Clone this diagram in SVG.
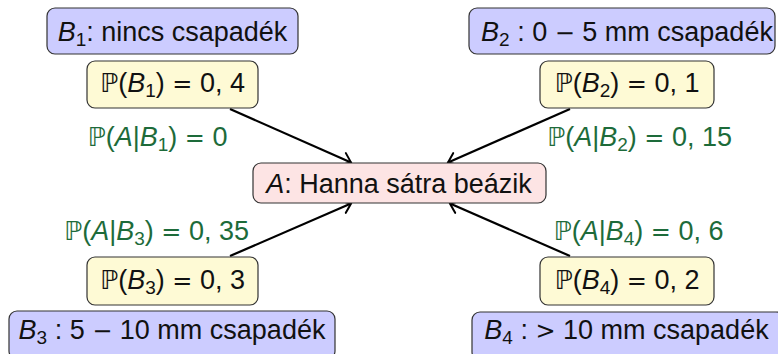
<svg xmlns="http://www.w3.org/2000/svg" width="778" height="354" viewBox="0 0 778 354">
<style>
text{font-family:"Liberation Sans","DejaVu Sans",sans-serif;font-size:27px;fill:#111;white-space:pre}
.g{fill:#1d6b3a}
.i{font-style:italic}
.s{font-size:19px}
.o{font-family:"DejaVu Sans",sans-serif;font-size:24px}
.p{font-family:"DejaVu Sans","DejaVu Serif",sans-serif;font-size:26px}
.blue{fill:#ccccff;stroke:#333;stroke-width:1.2}
.yel{fill:#fefad5;stroke:#333;stroke-width:1.2}
.red{fill:#fde4e4;stroke:#333;stroke-width:1.2}
.c{stroke:#000;stroke-width:2.2;fill:none}
</style>
<defs>
<marker id="ah" markerUnits="userSpaceOnUse" markerWidth="20" markerHeight="20" viewBox="-10 -10 20 20" refX="0" refY="0" orient="auto">
<path d="M -8.5 -6.5 Q -2.5 -2 0 0 Q -2.5 2 -8.5 6.5" fill="none" stroke="#000" stroke-width="2" stroke-linecap="round"/>
</marker>
</defs>
<g id="connectors">
<line class="c" x1="230" y1="109" x2="351" y2="162.5" marker-end="url(#ah)"/>
<line class="c" x1="570" y1="109" x2="448" y2="162.5" marker-end="url(#ah)"/>
<line class="c" x1="230" y1="256" x2="351" y2="203.5" marker-end="url(#ah)"/>
<line class="c" x1="570" y1="256" x2="450" y2="203.5" marker-end="url(#ah)"/>
</g>
<g id="B1">
<rect class="blue" x="47" y="8" width="251" height="46" rx="8"/>
<text x="172.5" y="40.5" text-anchor="middle"><tspan class="i">B</tspan><tspan class="s" dy="5">1</tspan><tspan dy="-5">: nincs csapadék</tspan></text>
</g>
<g id="PB1">
<rect class="yel" x="87" y="61" width="171" height="47" rx="8"/>
<text x="172.5" y="92" text-anchor="middle"><tspan class="p">ℙ</tspan>(<tspan class="i">B</tspan><tspan class="s" dy="5">1</tspan><tspan dy="-5">) </tspan><tspan class="o">=</tspan> 0, 4</text>
</g>
<g id="L1">
<text class="g" x="157.5" y="146" text-anchor="middle"><tspan class="p">ℙ</tspan>(<tspan class="i">A</tspan>|<tspan class="i">B</tspan><tspan class="s" dy="5">1</tspan><tspan dy="-5">) </tspan><tspan class="o">=</tspan> 0</text>
</g>
<g id="B2">
<rect class="blue" x="469" y="8" width="306" height="46" rx="8"/>
<text x="627" y="40.5" text-anchor="middle"><tspan class="i">B</tspan><tspan class="s" dy="5">2</tspan><tspan dy="-5"> : 0 </tspan><tspan class="o">−</tspan> 5 mm csapadék</text>
</g>
<g id="PB2">
<rect class="yel" x="540" y="61" width="174" height="47" rx="8"/>
<text x="627" y="92" text-anchor="middle"><tspan class="p">ℙ</tspan>(<tspan class="i">B</tspan><tspan class="s" dy="5">2</tspan><tspan dy="-5">) </tspan><tspan class="o">=</tspan> 0, 1</text>
</g>
<g id="L2">
<text class="g" x="639.5" y="146" text-anchor="middle"><tspan class="p">ℙ</tspan>(<tspan class="i">A</tspan>|<tspan class="i">B</tspan><tspan class="s" dy="5">2</tspan><tspan dy="-5">) </tspan><tspan class="o">=</tspan> 0, 15</text>
</g>
<g id="A">
<rect class="red" x="253" y="163" width="293" height="40" rx="8"/>
<text x="399" y="193" text-anchor="middle"><tspan class="i">A</tspan>: Hanna sátra beázik</text>
</g>
<g id="L3">
<text class="g" x="156.5" y="240" text-anchor="middle"><tspan class="p">ℙ</tspan>(<tspan class="i">A</tspan>|<tspan class="i">B</tspan><tspan class="s" dy="5">3</tspan><tspan dy="-5">) </tspan><tspan class="o">=</tspan> 0, 35</text>
</g>
<g id="L4">
<text class="g" x="638.5" y="240" text-anchor="middle"><tspan class="p">ℙ</tspan>(<tspan class="i">A</tspan>|<tspan class="i">B</tspan><tspan class="s" dy="5">4</tspan><tspan dy="-5">) </tspan><tspan class="o">=</tspan> 0, 6</text>
</g>
<g id="PB3">
<rect class="yel" x="87" y="257" width="171" height="48" rx="8"/>
<text x="172.5" y="289" text-anchor="middle"><tspan class="p">ℙ</tspan>(<tspan class="i">B</tspan><tspan class="s" dy="5">3</tspan><tspan dy="-5">) </tspan><tspan class="o">=</tspan> 0, 3</text>
</g>
<g id="PB4">
<rect class="yel" x="540" y="257" width="174" height="48" rx="8"/>
<text x="627" y="289" text-anchor="middle"><tspan class="p">ℙ</tspan>(<tspan class="i">B</tspan><tspan class="s" dy="5">4</tspan><tspan dy="-5">) </tspan><tspan class="o">=</tspan> 0, 2</text>
</g>
<g id="B3">
<rect class="blue" x="9" y="311" width="326" height="48" rx="8"/>
<text x="172" y="338.5" text-anchor="middle"><tspan class="i">B</tspan><tspan class="s" dy="5">3</tspan><tspan dy="-5"> : 5 </tspan><tspan class="o">−</tspan> 10 mm csapadék</text>
</g>
<g id="B4">
<rect class="blue" x="472" y="312" width="312" height="48" rx="8"/>
<text x="626.5" y="338.5" text-anchor="middle"><tspan class="i">B</tspan><tspan class="s" dy="5">4</tspan><tspan dy="-5"> : </tspan><tspan class="o">&gt;</tspan> 10 mm csapadék</text>
</g>
</svg>
